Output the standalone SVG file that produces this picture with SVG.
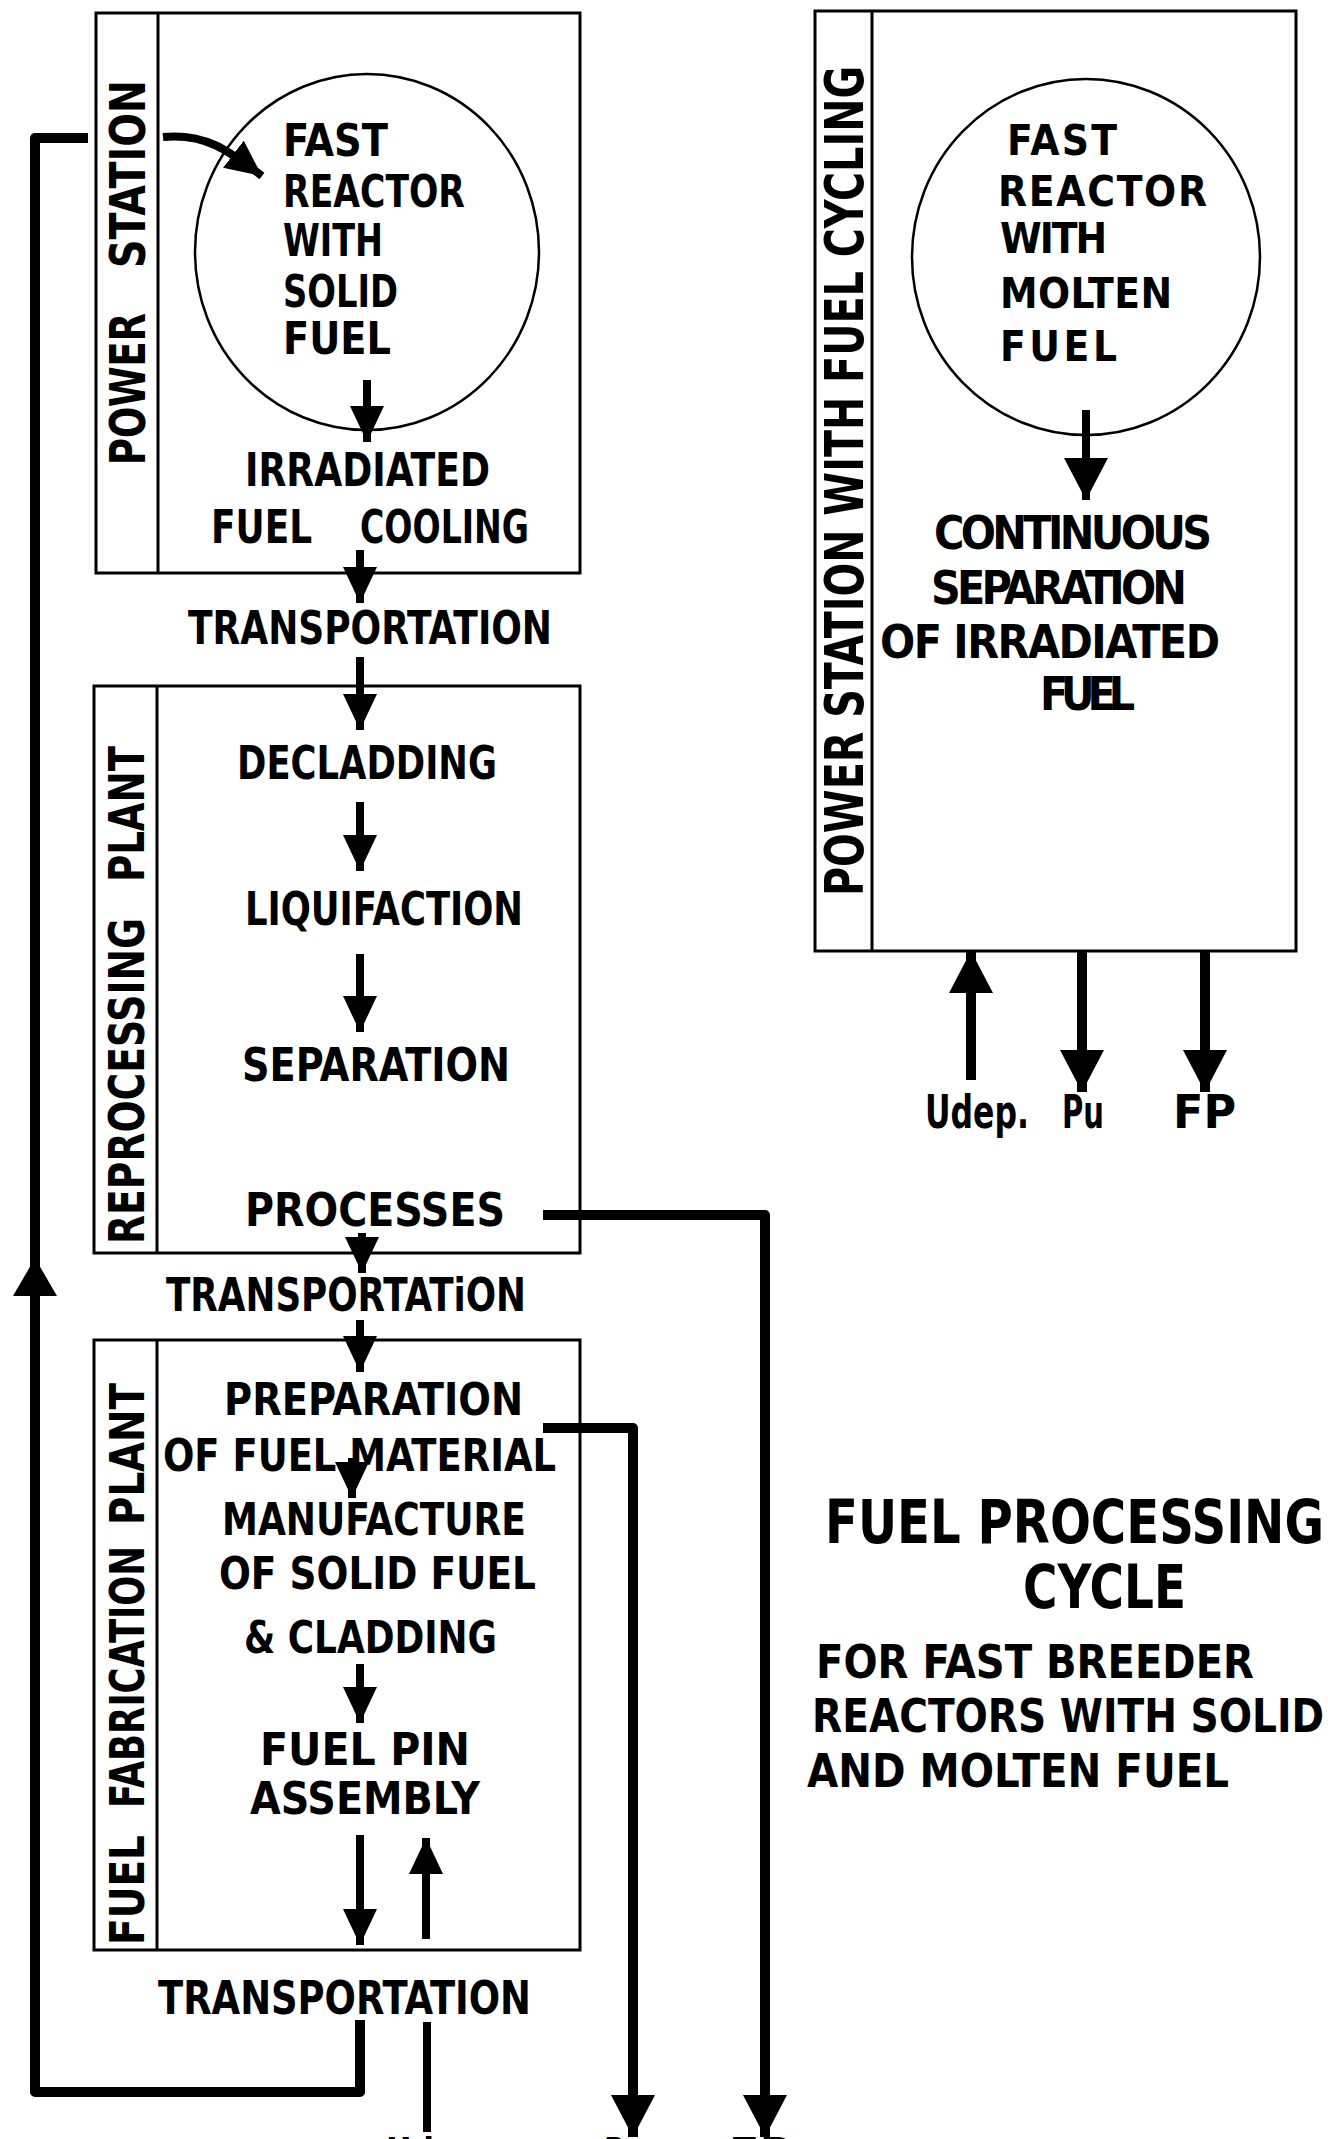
<svg xmlns="http://www.w3.org/2000/svg" width="1328" height="2139" viewBox="0 0 1328 2139">
<style>
.box{fill:none;stroke:#000;stroke-width:3}
.t{font-family:"DejaVu Sans Condensed","DejaVu Sans",sans-serif;font-weight:bold;fill:#000}
.s{fill:none;stroke:#000;stroke-width:8;stroke-linecap:butt}
.w{fill:none;stroke:#000;stroke-width:10;stroke-linejoin:round;stroke-linecap:butt}
.ring{fill:none;stroke:#000;stroke-width:2.5}
</style>
<defs>
<marker id="ah" viewBox="0 0 36 34" refX="36" refY="17" markerWidth="36" markerHeight="34" markerUnits="userSpaceOnUse" orient="auto"><path d="M0,0 L36,17 L0,34 z" fill="#000"/></marker>
<marker id="ahL" viewBox="0 0 42 44" refX="42" refY="22" markerWidth="42" markerHeight="44" markerUnits="userSpaceOnUse" orient="auto"><path d="M0,0 L42,22 L0,44 z" fill="#000"/></marker>
</defs>
<rect width="1328" height="2139" fill="#fff"/>

<g id="power-station">
<rect class="box" x="96" y="13" width="484" height="560"/>
<line class="box" x1="158" y1="13" x2="158" y2="573"/>
<text class="t" font-size="50" transform="translate(145,0) rotate(-90)"><tspan x="-465" y="0" textLength="152" lengthAdjust="spacingAndGlyphs">POWER</tspan><tspan x="-268" y="0" textLength="188" lengthAdjust="spacingAndGlyphs">STATION</tspan></text>
<ellipse class="ring" cx="367" cy="252" rx="172" ry="178"/>
<text class="t" font-size="44" x="283" y="156" textLength="105" lengthAdjust="spacingAndGlyphs">FAST</text>
<text class="t" font-size="44" x="283" y="207" textLength="182" lengthAdjust="spacingAndGlyphs">REACTOR</text>
<text class="t" font-size="44" x="283" y="256" textLength="100" lengthAdjust="spacingAndGlyphs">WITH</text>
<text class="t" font-size="44" x="283" y="307" textLength="115" lengthAdjust="spacingAndGlyphs">SOLID</text>
<text class="t" font-size="44" x="283" y="354" textLength="108" lengthAdjust="spacingAndGlyphs">FUEL</text>
<text class="t" font-size="46" x="245" y="486" textLength="245" lengthAdjust="spacingAndGlyphs">IRRADIATED</text>
<text class="t" font-size="46" y="543"><tspan x="211" textLength="101" lengthAdjust="spacingAndGlyphs">FUEL</tspan><tspan x="360" textLength="169" lengthAdjust="spacingAndGlyphs">COOLING</tspan></text>
</g>

<g id="transport-1">
<text class="t" font-size="46" x="188" y="644" textLength="364" lengthAdjust="spacingAndGlyphs">TRANSPORTATION</text>
</g>

<g id="reprocessing-plant">
<rect class="box" x="94" y="686" width="486" height="567"/>
<line class="box" x1="157" y1="686" x2="157" y2="1253"/>
<text class="t" font-size="50" transform="translate(144,0) rotate(-90)"><tspan x="-1244" y="0" textLength="326" lengthAdjust="spacingAndGlyphs">REPROCESSING</tspan><tspan x="-882" y="0" textLength="136" lengthAdjust="spacingAndGlyphs">PLANT</tspan></text>
<text class="t" font-size="46" x="237" y="779" textLength="260" lengthAdjust="spacingAndGlyphs">DECLADDING</text>
<text class="t" font-size="46" x="245" y="925" textLength="278" lengthAdjust="spacingAndGlyphs">LIQUIFACTION</text>
<text class="t" font-size="46" x="242" y="1081" textLength="268" lengthAdjust="spacingAndGlyphs">SEPARATION</text>
<text class="t" font-size="46" x="245" y="1226" textLength="260" lengthAdjust="spacingAndGlyphs">PROCESSES</text>
</g>

<g id="transport-2">
<text class="t" font-size="46" x="166" y="1311" textLength="360" lengthAdjust="spacingAndGlyphs">TRANSPORTATiON</text>
</g>

<g id="fuel-fabrication-plant">
<rect class="box" x="94" y="1340" width="486" height="610"/>
<line class="box" x1="157" y1="1340" x2="157" y2="1950"/>
<text class="t" font-size="48" transform="translate(144,0) rotate(-90)"><tspan x="-1945" y="0" textLength="110" lengthAdjust="spacingAndGlyphs">FUEL</tspan><tspan x="-1808" y="0" textLength="262" lengthAdjust="spacingAndGlyphs">FABRICATION</tspan><tspan x="-1525" y="0" textLength="142" lengthAdjust="spacingAndGlyphs">PLANT</tspan></text>
<text class="t" font-size="44" x="224" y="1415" textLength="299" lengthAdjust="spacingAndGlyphs">PREPARATION</text>
<text class="t" font-size="44" x="163" y="1471" textLength="393" lengthAdjust="spacingAndGlyphs">OF FUEL MATERIAL</text>
<text class="t" font-size="44" x="222" y="1535" textLength="304" lengthAdjust="spacingAndGlyphs">MANUFACTURE</text>
<text class="t" font-size="44" x="219" y="1589" textLength="317" lengthAdjust="spacingAndGlyphs">OF SOLID FUEL</text>
<text class="t" font-size="44" x="244" y="1653" textLength="253" lengthAdjust="spacingAndGlyphs">&amp; CLADDING</text>
<text class="t" font-size="44" x="260" y="1765" textLength="210" lengthAdjust="spacingAndGlyphs">FUEL PIN</text>
<text class="t" font-size="44" x="250" y="1814" textLength="230" lengthAdjust="spacingAndGlyphs">ASSEMBLY</text>
</g>

<g id="transport-3">
<text class="t" font-size="46" x="158" y="2014" textLength="373" lengthAdjust="spacingAndGlyphs">TRANSPORTATION</text>
</g>

<g id="power-station-molten">
<rect class="box" x="815" y="11" width="481" height="940"/>
<line class="box" x1="872" y1="11" x2="872" y2="951"/>
<text class="t" font-size="54" transform="translate(863,0) rotate(-90)" x="-896" y="0" textLength="830" lengthAdjust="spacingAndGlyphs">POWER STATION WITH FUEL CYCLING</text>
<ellipse class="ring" cx="1086" cy="257" rx="174" ry="178"/>
<text class="t" font-size="42" x="1007" y="155" textLength="110" lengthAdjust="spacing">FAST</text>
<text class="t" font-size="42" x="998" y="206" textLength="209" lengthAdjust="spacing">REACTOR</text>
<text class="t" font-size="42" x="1000" y="253" textLength="107" lengthAdjust="spacing">WITH</text>
<text class="t" font-size="42" x="1000" y="308" textLength="172" lengthAdjust="spacing">MOLTEN</text>
<text class="t" font-size="42" x="1000" y="361" textLength="117" lengthAdjust="spacing">FUEL</text>
<text class="t" font-size="46" x="934" y="549" textLength="278" lengthAdjust="spacing">CONTINUOUS</text>
<text class="t" font-size="46" x="931" y="604" textLength="256" lengthAdjust="spacing">SEPARATION</text>
<text class="t" font-size="46" x="880" y="658" textLength="340" lengthAdjust="spacing">OF IRRADIATED</text>
<text class="t" font-size="46" x="1040" y="710" textLength="95" lengthAdjust="spacing">FUEL</text>
</g>

<g id="outputs-right">
<text class="t" font-size="46" x="925" y="1128" textLength="104" lengthAdjust="spacingAndGlyphs">Udep.</text>
<text class="t" font-size="46" x="1062" y="1128" textLength="42" lengthAdjust="spacingAndGlyphs">Pu</text>
<text class="t" font-size="46" x="1173" y="1128" textLength="63" lengthAdjust="spacingAndGlyphs">FP</text>
</g>

<g id="outputs-left">
<text class="t" font-size="46" x="386" y="2171" textLength="104" lengthAdjust="spacingAndGlyphs">Udep.</text>
<text class="t" font-size="46" x="604" y="2171" textLength="42" lengthAdjust="spacingAndGlyphs">Pu</text>
<text class="t" font-size="46" x="729" y="2171" textLength="63" lengthAdjust="spacingAndGlyphs">FP</text>
</g>

<g id="title">
<text class="t" font-size="60" x="825" y="1543" textLength="499" lengthAdjust="spacingAndGlyphs">FUEL PROCESSING</text>
<text class="t" font-size="60" x="1023" y="1608" textLength="163" lengthAdjust="spacingAndGlyphs">CYCLE</text>
<text class="t" font-size="47" x="816" y="1678" textLength="438" lengthAdjust="spacingAndGlyphs">FOR FAST BREEDER</text>
<text class="t" font-size="47" x="812" y="1732" textLength="512" lengthAdjust="spacingAndGlyphs">REACTORS WITH SOLID</text>
<text class="t" font-size="47" x="807" y="1787" textLength="422" lengthAdjust="spacingAndGlyphs">AND MOLTEN FUEL</text>
</g>

<g id="connectors">
<path class="w" d="M360,2020 V2092 H35 V138 H88"/>
<path d="M35,1258 L13,1296 L57,1296 z" fill="#000"/>
<path class="s" d="M163,137 C205,133 228,150 262,176" marker-end="url(#ah)"/>
<line class="s" x1="367" y1="380" x2="367" y2="442" marker-end="url(#ah)"/>
<line class="s" x1="360" y1="550" x2="360" y2="603" marker-end="url(#ah)"/>
<line class="s" x1="360" y1="657" x2="360" y2="730" marker-end="url(#ah)"/>
<line class="s" x1="360" y1="802" x2="360" y2="871" marker-end="url(#ah)"/>
<line class="s" x1="360" y1="954" x2="360" y2="1032" marker-end="url(#ah)"/>
<line class="s" x1="362" y1="1233" x2="362" y2="1273" marker-end="url(#ah)"/>
<line class="s" x1="360" y1="1320" x2="360" y2="1372" marker-end="url(#ah)"/>
<line class="s" x1="352" y1="1458" x2="352" y2="1498" marker-end="url(#ah)"/>
<line class="s" x1="360" y1="1664" x2="360" y2="1723" marker-end="url(#ah)"/>
<line class="s" x1="360" y1="1835" x2="360" y2="1945" marker-end="url(#ah)"/>
<line class="s" x1="426" y1="1939" x2="426" y2="1838" marker-end="url(#ah)"/>
<line class="s" x1="427" y1="2022" x2="427" y2="2132"/>
<path class="w" d="M543,1428 H633 V2137" marker-end="url(#ahL)"/>
<path class="w" d="M543,1215 H765 V2137" marker-end="url(#ahL)"/>
<line class="s" x1="1086" y1="410" x2="1086" y2="500" marker-end="url(#ahL)"/>
<line class="w" x1="971" y1="1080" x2="971" y2="951" marker-end="url(#ahL)"/>
<line class="w" x1="1082" y1="951" x2="1082" y2="1092" marker-end="url(#ahL)"/>
<line class="w" x1="1205" y1="951" x2="1205" y2="1092" marker-end="url(#ahL)"/>
</g>
</svg>
